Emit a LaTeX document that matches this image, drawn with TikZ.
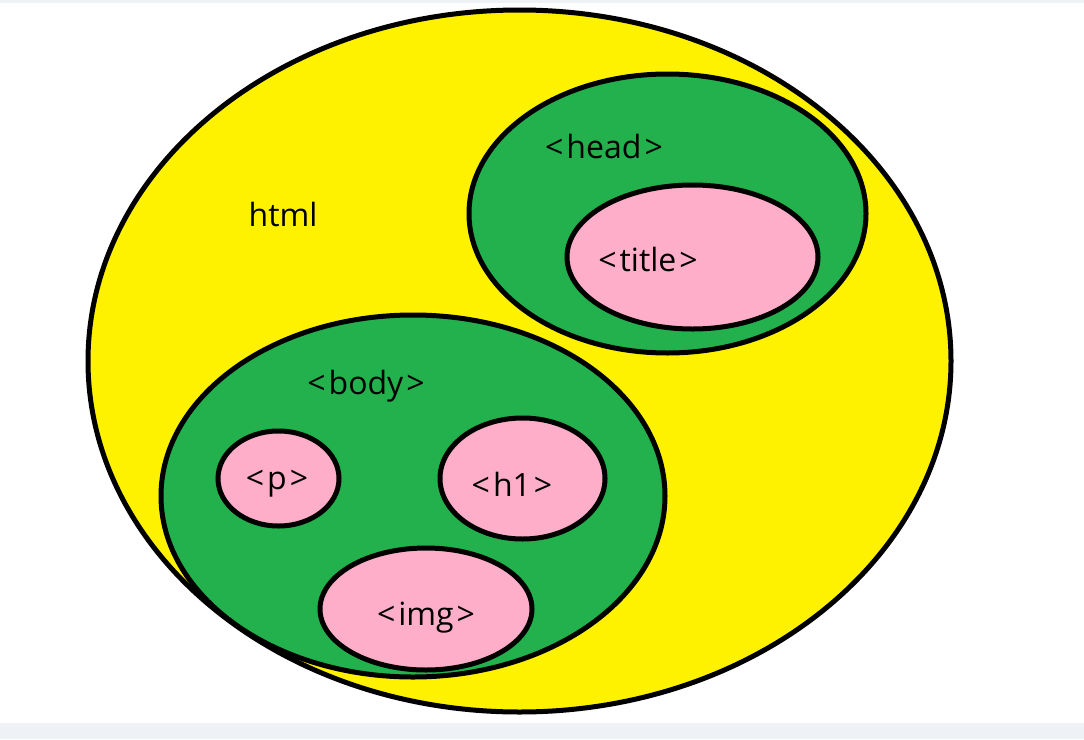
\documentclass[tikz,border=0pt]{standalone}
\usepackage{fontspec}
\setmainfont{Open Sans}
\definecolor{pyellow}{HTML}{FFF200}
\definecolor{pgreen}{HTML}{22B14C}
\definecolor{ppink}{HTML}{FFAEC9}
\definecolor{barcol}{HTML}{EEF2F7}
\newcommand{\lt}{<\kern3pt}
\newcommand{\gt}{\kern3pt>}
\tikzset{
  blob/.style={draw=black, line width=5pt},
  lbl/.style={font=\fontsize{32}{35}\selectfont, text=black, inner sep=0pt, anchor=center},
}
\begin{document}
\begin{tikzpicture}[x=1pt,y=-1pt]
\useasboundingbox (0,0) rectangle (1084,739);
\fill[white] (0,0) rectangle (1084,739);
\fill[barcol] (0,0) rectangle (1084,3);
\fill[barcol] (0,723) rectangle (1084,739);
\draw[blob, fill=pyellow] (519.5,361) ellipse [x radius=431.5, y radius=351];
\draw[blob, fill=pgreen] (667.5,213.5) ellipse [x radius=198.5, y radius=139.5];
\draw[blob, fill=ppink] (692.5,257) ellipse [x radius=125.5, y radius=72];
\draw[blob, fill=pgreen] (413,496) ellipse [x radius=252, y radius=181];
\draw[blob, fill=ppink] (278.5,478.5) ellipse [x radius=60.5, y radius=47.5];
\draw[blob, fill=ppink] (522.5,478.5) ellipse [x radius=82.5, y radius=60.5];
\draw[blob, fill=ppink] (426,609) ellipse [x radius=106, y radius=61];
\node[lbl] (html) at (283,214) {html};
\node[lbl] (head) at (604,146) {\lt head\gt};
\node[lbl] (title) at (648,259) {\lt title\gt};
\node[lbl] (body) at (366,386) {\lt body\gt};
\node[lbl] (p) at (277,484) {\lt p\gt};
\node[lbl] (h1) at (512,484) {\lt h1\gt};
\node[lbl] (img) at (426,618) {\lt img\gt};
\end{tikzpicture}
\end{document}
